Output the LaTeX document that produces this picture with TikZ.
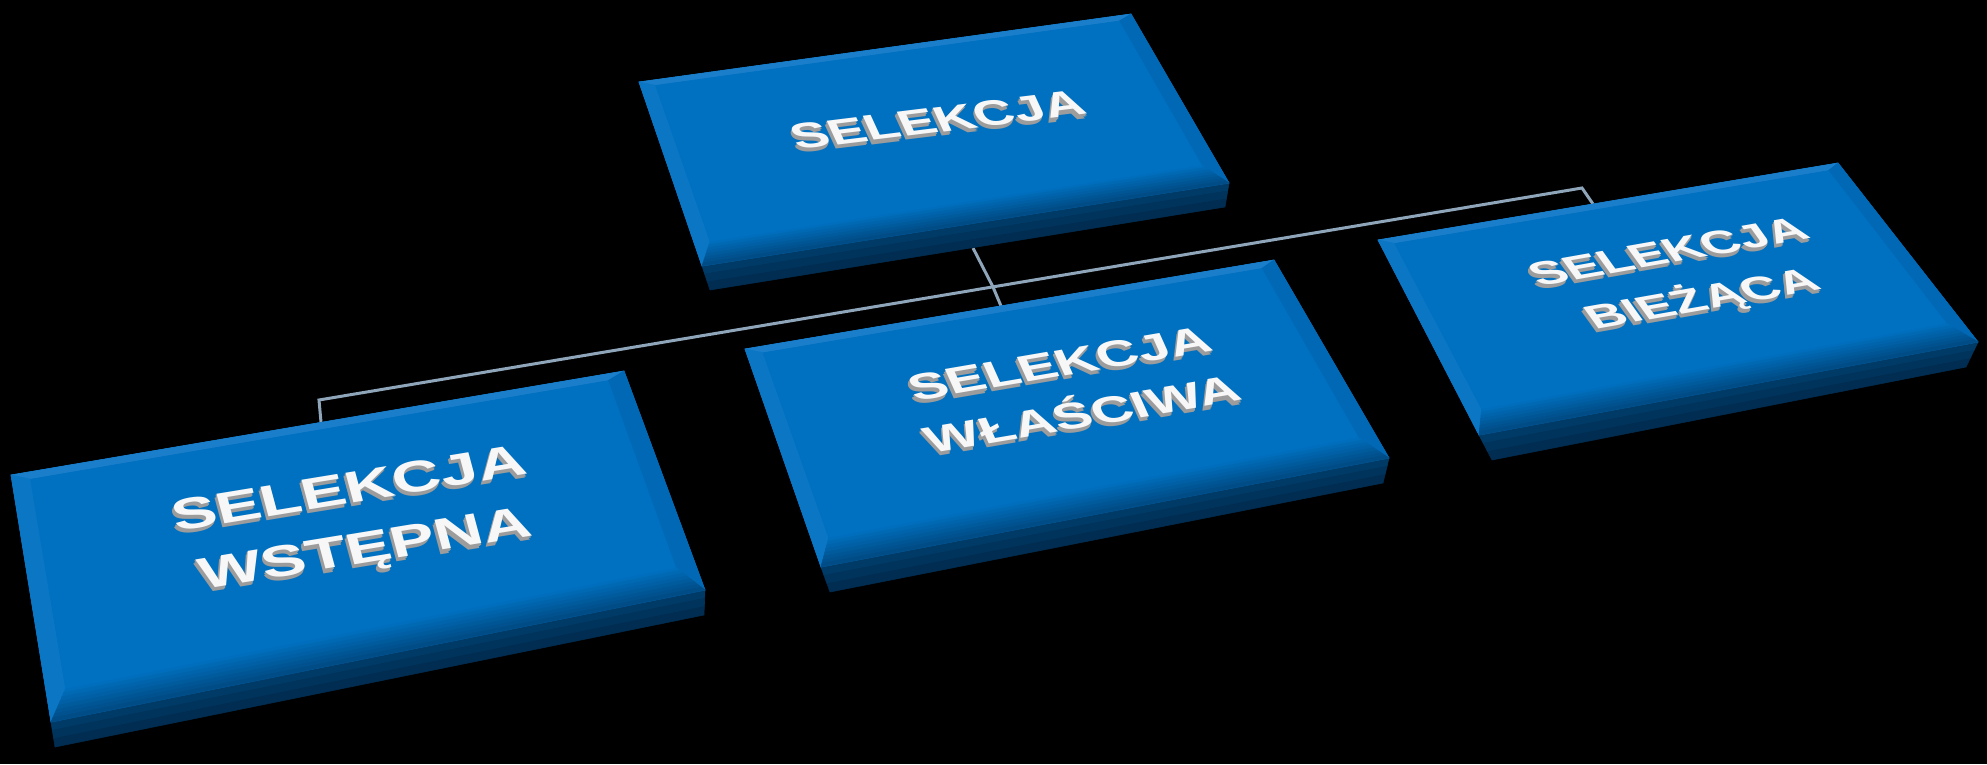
\documentclass[tikz,border=0pt]{standalone}
\usepackage{fontspec}
\setmainfont{Liberation Sans}
\usetikzlibrary{calc}
\definecolor{facec}{HTML}{0070C0}
\definecolor{bevT}{HTML}{1A7ECA}
\definecolor{bevL}{HTML}{0A76C4}
\definecolor{bevR}{HTML}{0068B4}
\definecolor{bevC}{HTML}{004A82}
\definecolor{frontA}{HTML}{003E6C}
\definecolor{frontB}{HTML}{002A4C}
\definecolor{connc}{HTML}{8EA5BA}
\definecolor{txtwhite}{HTML}{F7F7F7}
\definecolor{txtshadow}{HTML}{9C9C9C}
\tikzset{
  pf/.style={fill=#1, draw=#1, line width=0.6pt, line join=round},
  conn/.style={draw=connc, line width=3pt},
  lbl/.style={inner sep=0pt, align=center},
}
\newcommand\drawslab[1]{%
  \coordinate (#1tL) at ($(#1A)!0.03!(#1B)$);
  \coordinate (#1tR) at ($(#1A)!0.97!(#1B)$);
  \coordinate (#1bL) at ($(#1D)!0.03!(#1C)$);
  \coordinate (#1bR) at ($(#1D)!0.97!(#1C)$);
  \coordinate (#1Ai) at ($(#1tL)!0.03!(#1bL)$);
  \coordinate (#1Bi) at ($(#1tR)!0.03!(#1bR)$);
  \coordinate (#1Ci) at ($(#1tR)!0.88!(#1bR)$);
  \coordinate (#1Di) at ($(#1tL)!0.88!(#1bL)$);
  % front side, graded in 3 bands
  \foreach \i [evaluate=\i as \fa using \i/3, evaluate=\i as \fb using (\i+1)/3,
               evaluate=\i as \pc using (\i+0.5)*33.3] in {0,1,2}{%
    \path[pf={frontB!\pc!frontA}] ($(#1D)!\fa!(#1Db)$) -- ($(#1C)!\fa!(#1Cb)$)
      -- ($(#1C)!\fb!(#1Cb)$) -- ($(#1D)!\fb!(#1Db)$) -- cycle;}
  \path[pf=facec] (#1A) -- (#1B) -- (#1C) -- (#1D) -- cycle;
  \path[pf=bevT] (#1A) -- (#1B) -- (#1Bi) -- (#1Ai) -- cycle;
  \path[pf=bevL] (#1A) -- (#1Ai) -- (#1Di) -- (#1D) -- cycle;
  \path[pf=bevR] (#1B) -- (#1C) -- (#1Ci) -- (#1Bi) -- cycle;
  % bottom bevel, graded in 8 bands
  \foreach \i [evaluate=\i as \fa using \i/8, evaluate=\i as \fb using (\i+1)/8,
               evaluate=\i as \pc using (\i+0.5)*12.5] in {0,...,7}{%
    \path[pf={bevC!\pc!facec}] ($(#1Di)!\fa!(#1D)$) -- ($(#1Ci)!\fa!(#1C)$)
      -- ($(#1Ci)!\fb!(#1C)$) -- ($(#1Di)!\fb!(#1D)$) -- cycle;}
  \path[pf=facec] (#1Ai) -- (#1Bi) -- (#1Ci) -- (#1Di) -- cycle;
}
\newcommand\boxlabel[8]{%
  \foreach \k in {3,2,1}{%
    \node[lbl, text=txtshadow, rotate=#4, xslant=#5, yscale=0.66,
      font=\fontsize{#6}{#7}\selectfont\bfseries] (#1-sh\k)
      at ($(#2,#3)+(-0.6*\k,1.4*\k)$) {#8};}
  \node[lbl, text=txtwhite, rotate=#4, xslant=#5, yscale=0.66,
    font=\fontsize{#6}{#7}\selectfont\bfseries] (#1) at (#2,#3) {#8};
}
\begin{document}
\begin{tikzpicture}[x=1pt,y=-1pt]
  \fill[black] (0,0) rectangle (1987,764);
  \useasboundingbox (0,0) rectangle (1987,764);
  % connectors
  \coordinate (tbot) at (973,248);
  \coordinate (jc) at (993,287);
  \coordinate (ctop) at (1001,306);
  \coordinate (lcorner) at (319,400);
  \coordinate (ltop) at (321,422);
  \coordinate (rcorner) at (1582,188);
  \coordinate (rtop) at (1593,204);
  \draw[conn] (tbot) -- (jc) -- (ctop);
  \draw[conn] (ltop) -- (lcorner) -- (rcorner) -- (rtop);
  % top box
  \coordinate (tA) at (639,82);  \coordinate (tB) at (1131,14);
  \coordinate (tC) at (1229,183); \coordinate (tD) at (702,266);
  \coordinate (tCb) at (1225,207); \coordinate (tDb) at (710,290);
  \drawslab{t}
  % left box
  \coordinate (lA) at (11,475);  \coordinate (lB) at (624,371);
  \coordinate (lC) at (705,590); \coordinate (lD) at (51,722);
  \coordinate (lCb) at (704,615); \coordinate (lDb) at (55,747);
  \drawslab{l}
  % centre box
  \coordinate (cA) at (745,349);  \coordinate (cB) at (1274,260);
  \coordinate (cC) at (1389,458); \coordinate (cD) at (821,567);
  \coordinate (cCb) at (1383,483); \coordinate (cDb) at (830,592);
  \drawslab{c}
  % right box
  \coordinate (rA) at (1378,240);  \coordinate (rB) at (1838,163);
  \coordinate (rC) at (1978,342); \coordinate (rD) at (1479,435);
  \coordinate (rCb) at (1966,367); \coordinate (rDb) at (1492,460);
  \drawslab{r}
  % labels
  \boxlabel{toplbl}{938}{120}{7}{-0.32}{55}{80}{SELEKCJA}
  \boxlabel{leftlbl}{358}{522}{9.3}{-0.1}{67}{93}{SELEKCJA\\WSTĘPNA}
  \boxlabel{midlbl}{1071}{389}{9.7}{-0.26}{57}{82}{SELEKCJA\\WŁAŚCIWA}
  \boxlabel{rightlbl}{1687}{278}{10}{-0.48}{52}{79}{SELEKCJA\\BIEŻĄCA}
\end{tikzpicture}
\end{document}
